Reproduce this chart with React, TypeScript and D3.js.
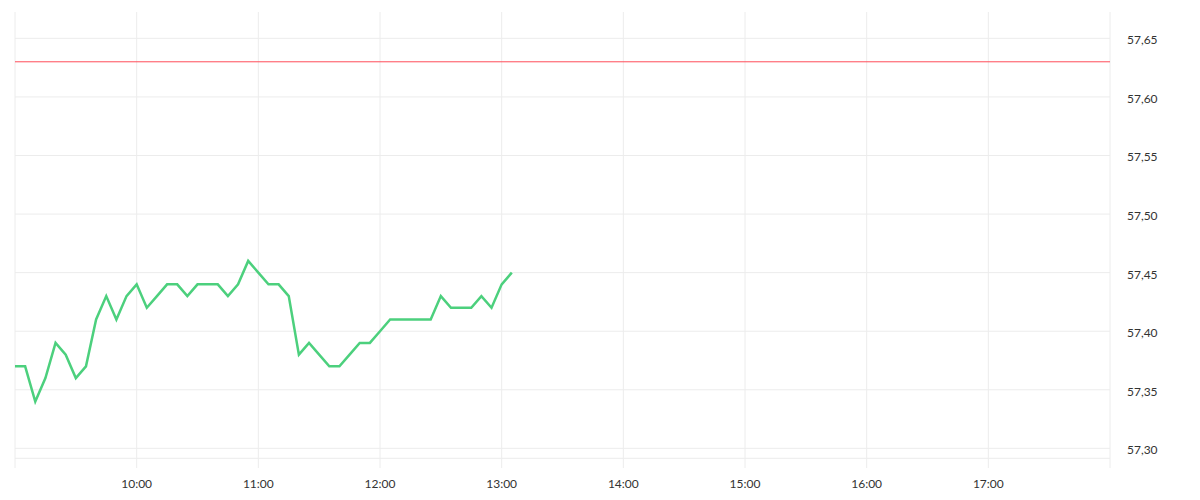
import React from "react";
import * as d3 from "d3";

const times: string[] = [
  "09:00","09:05","09:10","09:15","09:20","09:25","09:30","09:35","09:40","09:45","09:50","09:55",
  "10:00","10:05","10:10","10:15","10:20","10:25","10:30","10:35","10:40","10:45","10:50","10:55",
  "11:00","11:05","11:10","11:15","11:20","11:25","11:30","11:35","11:40","11:45","11:50","11:55",
  "12:00","12:05","12:10","12:15","12:20","12:25","12:30","12:35","12:40","12:45","12:50","12:55",
  "13:00","13:05",
];
const prices: number[] = [
  57.37,57.37,57.34,57.36,57.39,57.38,57.36,57.37,57.41,57.43,57.41,57.43,
  57.44,57.42,57.43,57.44,57.44,57.43,57.44,57.44,57.44,57.43,57.44,57.46,
  57.45,57.44,57.44,57.43,57.38,57.39,57.38,57.37,57.37,57.38,57.39,57.39,
  57.40,57.41,57.41,57.41,57.41,57.41,57.43,57.42,57.42,57.42,57.43,57.42,
  57.44,57.45,
];
const previousClose = 57.63;
const yTicks: number[] = [57.3, 57.35, 57.4, 57.45, 57.5, 57.55, 57.6, 57.65];
const xTickLabels: string[] = ["10:00","11:00","12:00","13:00","14:00","15:00","16:00","17:00"];
const sessionStart = "09:00";
const sessionEnd = "18:00";

const toMin = (s: string) => {
  const [h, m] = s.split(":").map(Number);
  return h * 60 + m;
};

export default function App() {
  const W = 1200, H = 500;
  const left = 15, right = 1110, top = 12, bottom = 458.3;
  const x = d3.scaleLinear().domain([toMin(sessionStart), toMin(sessionEnd)]).range([left, right]);
  const y = d3.scaleLinear().domain([57.2915, 57.6725]).range([bottom, top]);
  const line = d3.line<number>()
    .x((_, i) => x(toMin(times[i])))
    .y((d) => y(d));
  const grid = "#ececec";
  const fmt = (v: number) => v.toFixed(2).replace(".", ",");
  return (
    <svg width={W} height={H} style={{ position: "absolute", left: 0, top: 0 }}
      fontFamily="Lato" fontSize={12}>
      <rect width={W} height={H} fill="#fff" />
      {yTicks.map((t) => (
        <line key={t} x1={left} x2={right} y1={y(t)} y2={y(t)} stroke={grid} strokeWidth={1} />
      ))}
      <line x1={left} x2={right} y1={bottom} y2={bottom} stroke={grid} strokeWidth={1} />
      <line x1={left} x2={left} y1={top} y2={468} stroke={grid} strokeWidth={1} />
      <line x1={right} x2={right} y1={top} y2={468} stroke={grid} strokeWidth={1} />
      {xTickLabels.map((t) => (
        <g key={t}>
          <line x1={x(toMin(t))} x2={x(toMin(t))} y1={top} y2={468} stroke={grid} strokeWidth={1} />
          <text x={x(toMin(t))} y={483} textAnchor="middle" dominantBaseline="central" fill="#333">{t}</text>
        </g>
      ))}
      {yTicks.map((t) => (
        <text key={t} x={1127} y={y(t) + 1.5} dominantBaseline="central" fill="#333">{fmt(t)}</text>
      ))}
      <line x1={left} x2={right} y1={y(previousClose)} y2={y(previousClose)} stroke="#ff4d5a" strokeWidth={1} />
      <path d={line(prices) || ""} fill="none" stroke="#4cd07d" strokeWidth={2.5} strokeLinejoin="miter" />
    </svg>
  );
}
